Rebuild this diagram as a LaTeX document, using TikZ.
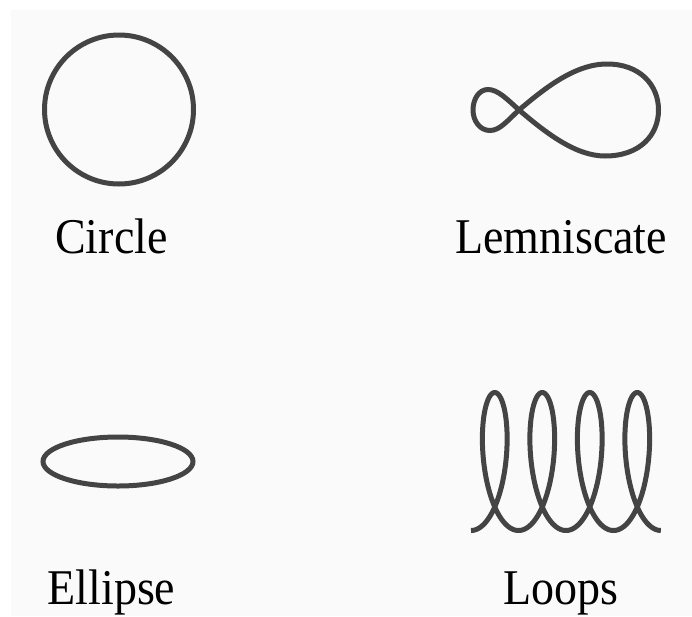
\documentclass[tikz,border=0pt]{standalone}
\usepackage{fontspec}
\newfontfamily\lblfont[FakeStretch=0.92]{Liberation Serif}
\definecolor{bgc}{HTML}{FAFAFA}
\definecolor{curvec}{HTML}{444444}
\begin{document}
\begin{tikzpicture}[x=1pt,y=-1pt,
  curve/.style={draw=curvec,line width=5pt},
  lbl/.style={anchor=base,inner sep=0pt,font=\lblfont\fontsize{50}{60}\selectfont,text=black}]
\useasboundingbox (0,0) rectangle (692,616);
\fill[white] (0,0) rectangle (692,616);
\fill[bgc] (11,10) rectangle (692,616);
% Circle
\draw[curve] (119,109.5) circle[radius=74.5];
% Lemniscate
\draw[curve] (519,110) .. controls (545,132) and (575,156) .. (605,156)
  .. controls (640,156) and (658.5,135) .. (658.5,110)
  .. controls (658.5,85) and (640,64) .. (607,64)
  .. controls (575,64) and (545,88) .. (519,110)
  .. controls (508,120) and (500,130.5) .. (490,130.5)
  .. controls (480,130.5) and (473,121) .. (473,110)
  .. controls (473,99) and (479,89.5) .. (488,89.5)
  .. controls (498,89.5) and (508,100) .. (519,110) -- cycle;
% Ellipse
\draw[curve] (118,461.5) ellipse[x radius=75,y radius=24.5];
% Loops
\draw[curve] plot[domain=0:25.1327,samples=500,variable=\t,smooth]
  ({471+7.56*\t+23*sin(\t r)},{461.5+69*cos(\t r)});
% Labels
\node[lbl] (circlelbl) at (111.5,253) {Circle};
\node[lbl] (lemnlbl) at (561,253) {Lemniscate};
\node[lbl] (ellipselbl) at (111.5,604) {Ellipse};
\node[lbl] (loopslbl) at (561,604) {Loops};
\end{tikzpicture}
\end{document}
